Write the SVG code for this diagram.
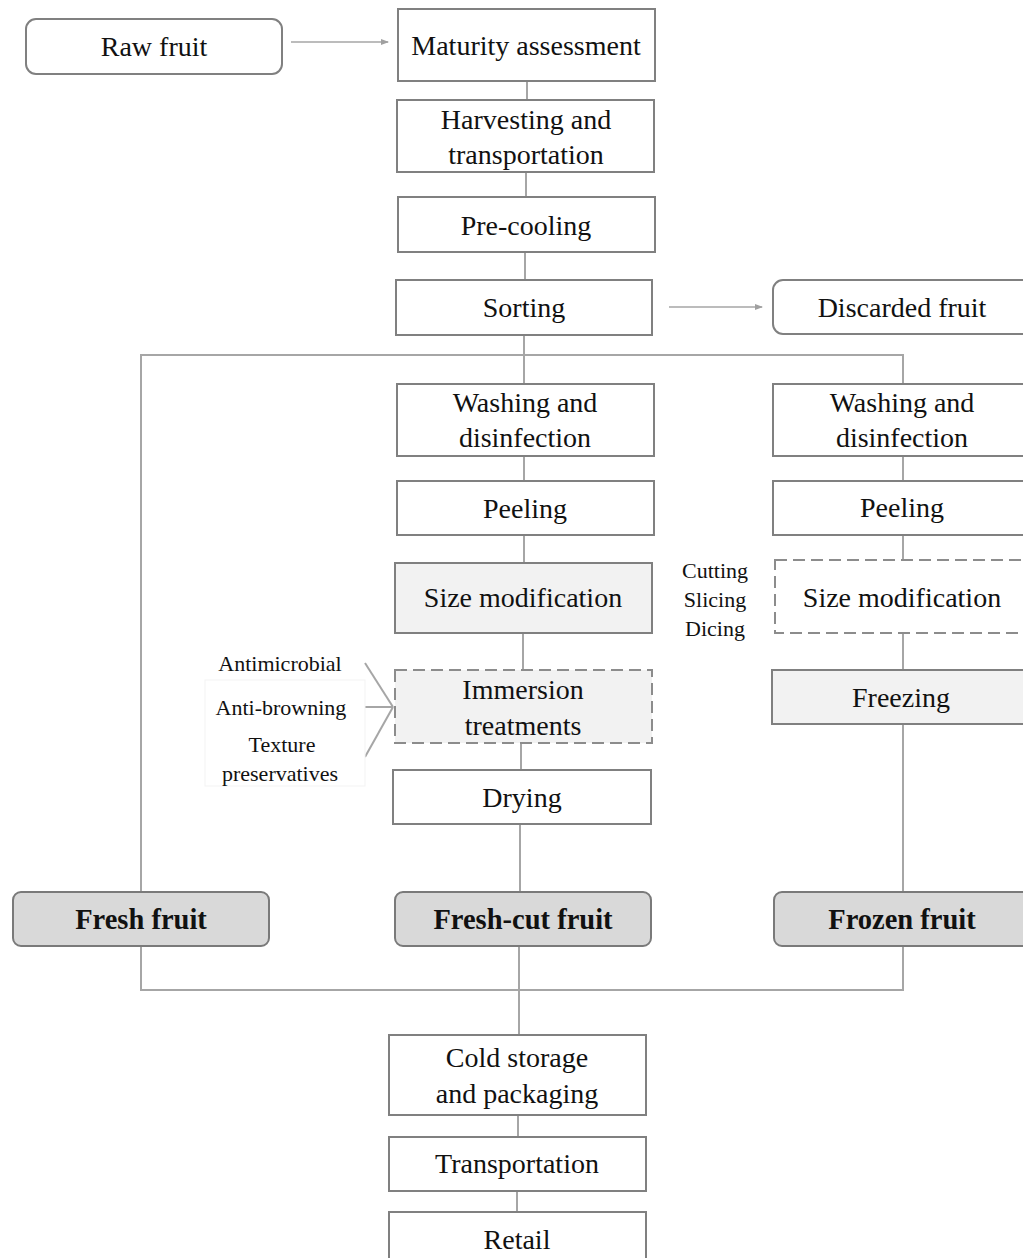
<svg xmlns="http://www.w3.org/2000/svg" width="1023" height="1258" viewBox="0 0 1023 1258">
<defs>
<marker id="arr" markerWidth="8" markerHeight="6" refX="7" refY="3" orient="auto" markerUnits="userSpaceOnUse">
<path d="M0,0 L8,3 L0,6 z" fill="#a0a0a0"/>
</marker>
<style>
.box{fill:#fff;stroke:#808080;stroke-width:2}
.gbox{fill:#f2f2f2;stroke:#808080;stroke-width:2}
.dash{stroke:#8c8c8c;stroke-width:2;stroke-dasharray:12 6}
.out{fill:#d9d9d9;stroke:#7a7a7a;stroke-width:2}
.rnd{fill:#fff;stroke:#808080;stroke-width:2}
text{font-family:"Liberation Serif","DejaVu Serif",serif;fill:#111;text-anchor:middle}
.t{font-size:28px}
.b{font-size:28.5px;font-weight:bold}
.s{font-size:22px}
.c{fill:none;stroke:#a6a6a6;stroke-width:2}
.a{fill:none;stroke:#a6a6a6;stroke-width:1.5}
</style>
</defs>
<rect width="1023" height="1258" fill="#fff"/>
<g id="connectors">
<line class="a" x1="291" y1="42" x2="388" y2="42" marker-end="url(#arr)"/>
<line class="a" x1="669" y1="307" x2="762" y2="307" marker-end="url(#arr)"/>
<line class="c" x1="527" y1="81" x2="527" y2="100"/>
<line class="c" x1="526" y1="172" x2="526" y2="197"/>
<line class="c" x1="525" y1="252" x2="525" y2="280"/>
<line class="c" x1="524" y1="335" x2="524" y2="384"/>
<polyline class="c" points="141,892 141,355 903,355 903,384"/>
<line class="c" x1="524" y1="456" x2="524" y2="481"/>
<line class="c" x1="524" y1="535" x2="524" y2="563"/>
<line class="c" x1="523" y1="633" x2="523" y2="670"/>
<line class="c" x1="521" y1="743" x2="521" y2="770"/>
<line class="c" x1="520" y1="824" x2="520" y2="892"/>
<line class="c" x1="903" y1="456" x2="903" y2="481"/>
<line class="c" x1="903" y1="535" x2="903" y2="560"/>
<line class="c" x1="903" y1="633" x2="903" y2="670"/>
<line class="c" x1="903" y1="724" x2="903" y2="892"/>
<polyline class="c" points="141,946 141,990 903,990 903,946"/>
<line class="c" x1="519" y1="946" x2="519" y2="1035"/>
<line class="c" x1="518" y1="1115" x2="518" y2="1137"/>
<line class="c" x1="517" y1="1191" x2="517" y2="1212"/>
<line class="c" x1="365" y1="663" x2="393" y2="707"/>
<line class="c" x1="365" y1="707" x2="393" y2="707"/>
<line class="c" x1="365" y1="757" x2="393" y2="707"/>
</g>
<g id="raw-fruit"><rect class="rnd" x="26" y="19" width="256" height="55" rx="10"/><text class="t" x="154" y="56">Raw fruit</text></g>
<g id="maturity"><rect class="box" x="398" y="9" width="257" height="72"/><text class="t" x="526" y="55">Maturity assessment</text></g>
<g id="harvesting"><rect class="box" x="397" y="100" width="257" height="72"/><text class="t" x="526" y="129">Harvesting and</text><text class="t" x="526" y="164">transportation</text></g>
<g id="precooling"><rect class="box" x="398" y="197" width="257" height="55"/><text class="t" x="526" y="235">Pre-cooling</text></g>
<g id="sorting"><rect class="box" x="396" y="280" width="256" height="55"/><text class="t" x="524" y="317">Sorting</text></g>
<g id="discarded"><rect class="rnd" x="773" y="280" width="265" height="54" rx="10"/><text class="t" x="902" y="317">Discarded fruit</text></g>
<g id="washing-mid"><rect class="box" x="397" y="384" width="257" height="72"/><text class="t" x="525" y="412">Washing and</text><text class="t" x="525" y="447">disinfection</text></g>
<g id="washing-right"><rect class="box" x="773" y="384" width="265" height="72"/><text class="t" x="902" y="412">Washing and</text><text class="t" x="902" y="447">disinfection</text></g>
<g id="peeling-mid"><rect class="box" x="397" y="481" width="257" height="54"/><text class="t" x="525" y="518">Peeling</text></g>
<g id="peeling-right"><rect class="box" x="773" y="481" width="265" height="54"/><text class="t" x="902" y="517">Peeling</text></g>
<g id="size-mid"><rect class="gbox" x="395" y="563" width="257" height="70"/><text class="t" x="523" y="607">Size modification</text></g>
<g id="size-right"><rect class="dash" fill="#fff" x="775" y="560" width="265" height="73"/><text class="t" x="902" y="607">Size modification</text></g>
<g id="cut-labels"><text class="s" x="715" y="578">Cutting</text><text class="s" x="715" y="607">Slicing</text><text class="s" x="715" y="636">Dicing</text></g>
<g id="immersion"><rect class="gbox dash" x="395" y="670" width="257" height="73"/><text class="t" x="523" y="699">Immersion</text><text class="t" x="523" y="735">treatments</text></g>
<g id="treatment-labels"><rect x="205" y="680" width="160" height="106" fill="#fff" stroke="#f3f3f3" stroke-width="1"/><text class="s" x="280" y="671">Antimicrobial</text><text class="s" x="281" y="715">Anti-browning</text><text class="s" x="282" y="752">Texture</text><text class="s" x="280" y="781">preservatives</text></g>
<g id="drying"><rect class="box" x="393" y="770" width="258" height="54"/><text class="t" x="522" y="807">Drying</text></g>
<g id="freezing"><rect class="gbox" x="772" y="670" width="265" height="54"/><text class="t" x="901" y="707">Freezing</text></g>
<g id="fresh-fruit"><rect class="out" x="13" y="892" width="256" height="54" rx="8"/><text class="b" x="141" y="929">Fresh fruit</text></g>
<g id="fresh-cut-fruit"><rect class="out" x="395" y="892" width="256" height="54" rx="8"/><text class="b" x="523" y="929">Fresh-cut fruit</text></g>
<g id="frozen-fruit"><rect class="out" x="774" y="892" width="265" height="54" rx="8"/><text class="b" x="902" y="929">Frozen fruit</text></g>
<g id="cold-storage"><rect class="box" x="389" y="1035" width="257" height="80"/><text class="t" x="517" y="1067">Cold storage</text><text class="t" x="517" y="1103">and packaging</text></g>
<g id="transportation"><rect class="box" x="389" y="1137" width="257" height="54"/><text class="t" x="517" y="1173">Transportation</text></g>
<g id="retail"><rect class="box" x="389" y="1212" width="257" height="55"/><text class="t" x="517" y="1249">Retail</text></g>
</svg>
